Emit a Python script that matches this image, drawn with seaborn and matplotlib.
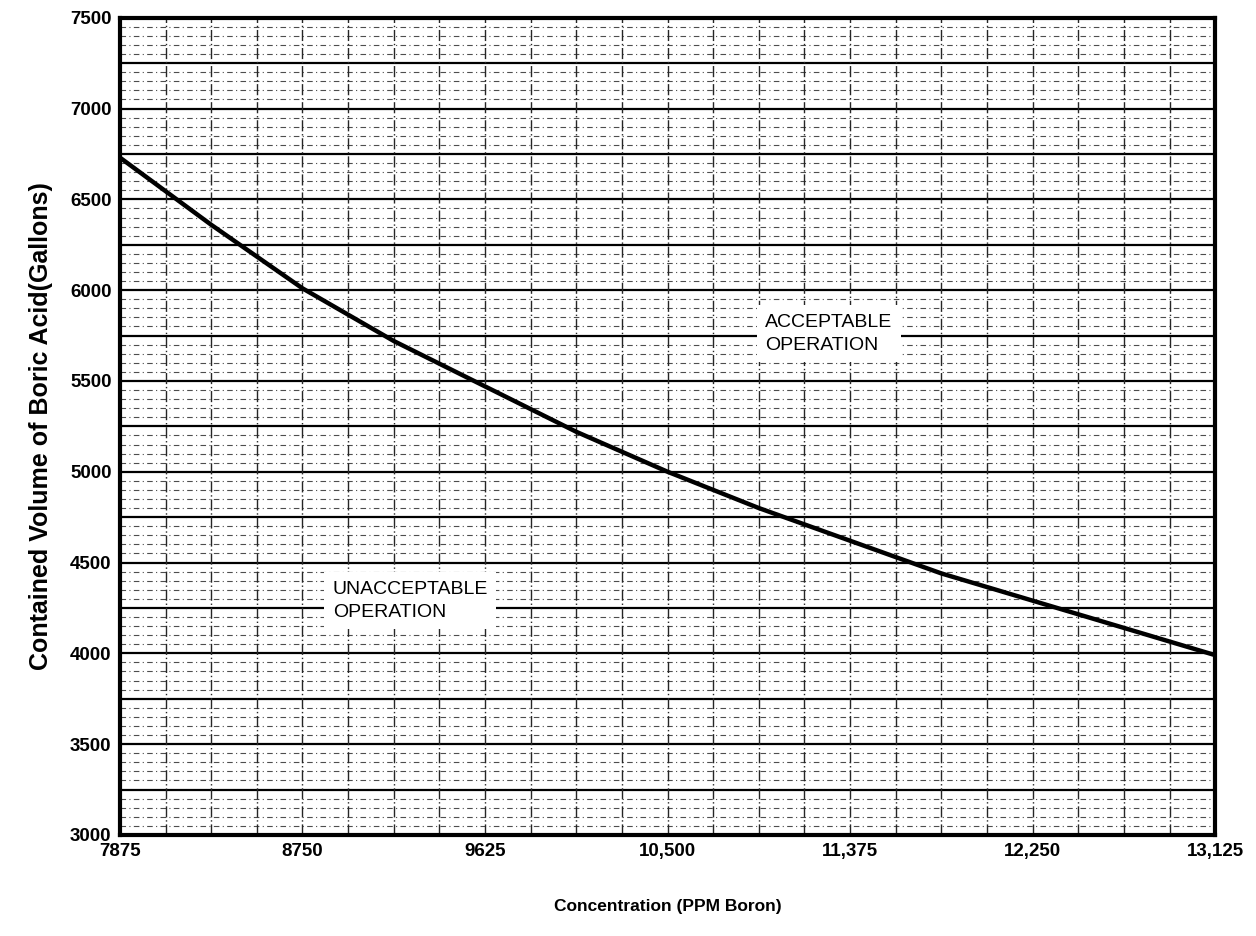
import numpy as np
import pandas as pd
import matplotlib
matplotlib.use("Agg")
import matplotlib.pyplot as plt
import seaborn as sns

# values
concentration = [7875, 8312.5, 8750, 9187.5, 9625, 10062.5, 10500, 10937.5, 11375, 11812.5, 12250, 12687.5, 13125]
volume = [6730, 6360, 6010, 5720, 5470, 5220, 5000, 4800, 4620, 4440, 4290, 4140, 3990]

x_ticks = [7875, 8750, 9625, 10500, 11375, 12250, 13125]
x_tick_labels = ["7875", "8750", "9625", "10,500", "11,375", "12,250", "13,125"]
y_ticks = [3000, 3500, 4000, 4500, 5000, 5500, 6000, 6500, 7000, 7500]

df = pd.DataFrame({"Concentration": concentration, "Volume": volume})

sns.set_style("white")
plt.rcParams["font.family"] = ["Liberation Sans", "DejaVu Sans"]
plt.rcParams["text.color"] = "black"
plt.rcParams["axes.labelcolor"] = "black"
plt.rcParams["xtick.color"] = "black"
plt.rcParams["ytick.color"] = "black"

fig = plt.figure(figsize=(12.56, 9.36), dpi=100)
ax = fig.add_axes([0.0955, 0.108, 0.872, 0.873])

# graph-paper grid
for y in np.arange(3000, 7501, 50):
    if y % 250 == 0:
        ax.axhline(y, color="black", lw=1.6, zorder=1)
    else:
        ax.axhline(y, color="0.3", lw=0.8, ls=(0, (5, 3, 1, 3)), zorder=1)
for x in np.arange(7875, 13125.1, 218.75):
    ax.axvline(x, color="0.15", lw=1.0, ls=(0, (8, 2, 1, 2)), zorder=1)

sns.lineplot(data=df, x="Concentration", y="Volume", ax=ax, color="black", lw=3.2, zorder=3)

ax.set_xlim(7875, 13125)
ax.set_ylim(3000, 7500)
ax.set_xticks(x_ticks)
ax.set_xticklabels(x_tick_labels)
ax.set_yticks(y_ticks)
ax.tick_params(axis="both", length=0, labelsize=13.5, pad=6)
for lbl in ax.get_xticklabels() + ax.get_yticklabels():
    lbl.set_fontweight("bold")

for s in ax.spines.values():
    s.set_linewidth(3)
    s.set_color("black")

ax.set_xlabel("Concentration (PPM Boron)", fontsize=12.5, fontweight="bold", labelpad=28)
ax.set_ylabel("Contained Volume of Boric Acid(Gallons)", fontsize=18, fontweight="bold", labelpad=12)

box = dict(facecolor="white", edgecolor="none", pad=6)
ax.text(10967, 5760, "ACCEPTABLE\nOPERATION", fontsize=14, ha="left", va="center",
        linespacing=1.45, bbox=box, zorder=4)
ax.text(8895, 4290, "UNACCEPTABLE\nOPERATION", fontsize=14, ha="left", va="center",
        linespacing=1.45, bbox=box, zorder=4)

fig.savefig("out.png", dpi=100)
